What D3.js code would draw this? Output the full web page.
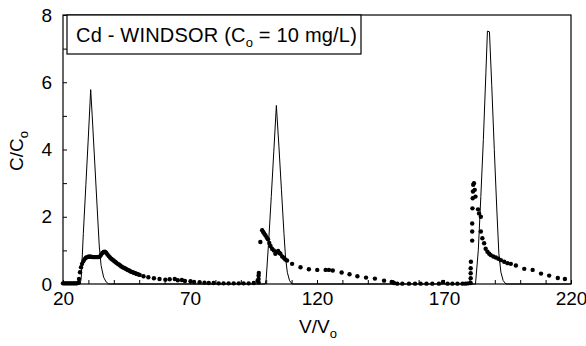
<!DOCTYPE html>
<html>
<head>
<meta charset="utf-8">
<script src="https://cdn.jsdelivr.net/npm/d3@7"></script>
<style>
  body { margin: 0; background: #fff; }
  svg { font-family: "Liberation Sans", Arial, Helvetica, sans-serif; }
  .axis text { font-size: 19px; fill: #000; }
  .axis line { stroke: #000; }
</style>
</head>
<body>
<svg width="586" height="346"></svg>
<script>
// model curve (solid line)
const lineV = [20, 26.8, 27.2, 28, 29, 30, 30.9, 31.5, 32.5, 33.5, 34.3, 35, 36, 37, 38,
  99.6, 100, 101, 102, 103, 104, 105, 106, 107, 107.6, 108.3, 109.2, 110.2,
  182.4, 183.5, 184.5, 185.5, 186.5, 187.1, 187.9, 188.8, 189.8, 190.8, 191.6, 192.4, 193.3, 194.4, 220];
const lineC = [0, 0, 0.2, 1.5, 2.95, 4.4, 5.78, 5.0, 3.6, 2.2, 1.1, 0.55, 0.2, 0.06, 0,
  0, 0.15, 1.3, 2.6, 3.95, 5.31, 4.1, 2.8, 1.5, 0.8, 0.35, 0.1, 0,
  0, 1.0, 2.6, 4.3, 6.3, 7.52, 7.5, 5.9, 4.0, 2.2, 0.9, 0.35, 0.1, 0, 0];

// measured data (dots)
const dotV = [20, 20.5, 21, 21.5, 22, 22.5, 23, 23.5, 24, 24.5, 25, 25.5, 26,
  26.3, 26.7, 27.1, 27.5, 28, 28.5, 29, 29.5, 30, 30.5, 31, 31.5, 32, 32.5, 33, 33.5, 34, 34.5,
  35, 35.5, 36, 36.5, 37, 37.5, 38, 38.5, 39, 39.5, 40, 40.5, 41, 41.5, 42, 42.5, 43, 43.5,
  44, 44.5, 45, 45.5, 46, 46.5, 47, 47.5, 48, 48.5, 49, 49.5, 50.2, 51.7, 53.6, 55.8, 58,
  60.3, 62, 64, 65.2, 66.8, 68, 70.2, 71.6, 73.8, 75.7, 77.4, 79.3, 81.3, 83.2, 85.2, 87.2,
  89.2, 91.1, 93.1, 95.1, 96.6, 97, 97, 97, 97.1,
  97.7, 98.4, 98.8, 99.2, 99.7, 100.2, 100.7, 101.2, 101.7, 102.3, 103, 103.6, 104.2, 104.7,
  105.2, 105.6, 106.3, 106.9, 107.5, 108.2, 110.2, 113.5, 116.8, 120.1, 123.4, 124.7, 126.2,
  129.7, 132.8, 135.9, 139.3, 142.8, 146.4, 149.4, 150.3, 151.6, 153.6, 156.2, 158.6, 160.8,
  163.1, 165.4, 168, 169.6, 171.4, 173.3, 175.3, 177.3, 178.5, 179.5,
  180.5, 180.5, 180.5, 180.5, 180.6, 181.1, 181.1, 181.1, 181.2, 181.3, 181.4, 181.5, 181.8,
  182.1, 182.4, 183.4, 183.8, 184.5, 184.5, 185.1, 185.8, 186.4, 187.1, 187.8, 188.4, 189.4,
  190.4, 191.4, 192.4, 193.7, 195, 196.3, 198.3, 201.6, 204.9, 208.2, 211.4, 214.8, 217.6];
const dotC = [0.02, 0.02, 0.02, 0.02, 0.02, 0.02, 0.02, 0.02, 0.02, 0.02, 0.02, 0.02, 0.04,
  0.15, 0.35, 0.5, 0.6, 0.68, 0.74, 0.78, 0.8, 0.81, 0.81, 0.81, 0.8, 0.8, 0.8, 0.8, 0.8, 0.8, 0.82,
  0.87, 0.92, 0.95, 0.96, 0.93, 0.88, 0.83, 0.79, 0.75, 0.72, 0.69, 0.66, 0.63, 0.6, 0.58, 0.55, 0.52, 0.5,
  0.48, 0.46, 0.44, 0.42, 0.4, 0.38, 0.36, 0.35, 0.33, 0.32, 0.3, 0.29, 0.27, 0.23, 0.2, 0.17, 0.15,
  0.13, 0.14, 0.15, 0.11, 0.12, 0.09, 0.08, 0.06, 0.05, 0.04, 0.03, 0.03, 0.02, 0.02, 0.02, 0.02,
  0.02, 0.02, 0.02, 0.03, 0.1, 0.05, 0.15, 0.25, 0.33,
  1.25, 1.6, 1.55, 1.5, 1.45, 1.38, 1.33, 1.22, 1.13, 1.05, 1.0, 0.9, 0.95, 0.98,
  0.92, 0.9, 0.82, 0.78, 0.73, 0.7, 0.6, 0.5, 0.44, 0.42, 0.42, 0.42, 0.4,
  0.34, 0.29, 0.23, 0.19, 0.16, 0.1, 0.06, 0.03, 0.01, 0.01, 0.01, 0.01, 0.01,
  0.01, 0.01, 0.01, 0.06, 0.01, 0.01, 0.01, 0.01, 0.01, 0.02,
  0.03, 0.17, 0.32, 0.47, 0.66, 1.29, 1.56, 1.8, 2.25, 2.55, 2.75, 2.95, 3.0,
  2.8, 2.6, 2.22, 2.1, 2.0, 1.56, 1.36, 1.21, 1.05, 0.96, 0.9, 0.86, 0.82,
  0.79, 0.75, 0.71, 0.66, 0.62, 0.6, 0.55, 0.45, 0.42, 0.31, 0.25, 0.18, 0.15];

const xTicks = d3.range(20, 221, 10);
const xLabels = [20, 70, 120, 170, 220];
const yTicks = d3.range(0, 9, 1);
const yLabels = [0, 2, 4, 6, 8];

const margin = {top: 15, right: 15, bottom: 62, left: 63};
const width = 586 - margin.left - margin.right;
const height = 346 - margin.top - margin.bottom;

const svg = d3.select("svg");
const g = svg.append("g")
  .attr("transform", "translate(" + margin.left + "," + margin.top + ")");

const x = d3.scaleLinear().domain([20, 220]).range([0, width]);
const y = d3.scaleLinear().domain([0, 8]).range([height, 0]);

g.append("g")
  .attr("class", "axis")
  .attr("transform", "translate(0," + height + ")")
  .call(d3.axisBottom(x).tickValues(xTicks).tickSize(-4).tickPadding(8)
    .tickFormat(d => xLabels.includes(d) ? d : ""))
  .call(a => a.select(".domain").remove());

g.append("g")
  .attr("class", "axis")
  .call(d3.axisLeft(y).tickValues(yTicks).tickSize(-4).tickPadding(11)
    .tickFormat(d => yLabels.includes(d) ? d : ""))
  .call(a => a.select(".domain").remove());

// frame
g.append("rect")
  .attr("width", width).attr("height", height)
  .attr("fill", "none").attr("stroke", "#000").attr("stroke-width", 1.2);

const line = d3.line()
  .x((d, i) => x(lineV[i]))
  .y((d, i) => y(lineC[i]));

g.append("path")
  .datum(lineV)
  .attr("d", line)
  .attr("fill", "none")
  .attr("stroke", "#000")
  .attr("stroke-width", 1);

g.selectAll(".dot")
  .data(dotV)
  .enter().append("circle")
  .attr("class", "dot")
  .attr("cx", d => x(d))
  .attr("cy", (d, i) => y(dotC[i]))
  .attr("r", 2.2)
  .attr("fill", "#000");

// legend box
g.append("rect")
  .attr("x", 4).attr("y", 0)
  .attr("width", 294).attr("height", 39)
  .attr("fill", "#fff").attr("stroke", "#000").attr("stroke-width", 1.2);

const title = g.append("text")
  .attr("x", 13).attr("y", 27)
  .attr("font-size", 20)
  .attr("letter-spacing", 0.2);
title.append("tspan").text("Cd - WINDSOR (C");
title.append("tspan").attr("font-size", 13).attr("dy", 5).text("o");
title.append("tspan").attr("dy", -5).text(" = 10 mg/L)");

// axis titles
const xt = svg.append("text")
  .attr("x", 318).attr("y", 333)
  .attr("text-anchor", "middle")
  .attr("font-size", 19);
xt.append("tspan").text("V/V");
xt.append("tspan").attr("font-size", 13).attr("dy", 5).text("o");

const yt = svg.append("text")
  .attr("transform", "translate(23,151) rotate(-90)")
  .attr("text-anchor", "middle")
  .attr("font-size", 19);
yt.append("tspan").text("C/C");
yt.append("tspan").attr("font-size", 13).attr("dy", 5).text("o");
</script>
</body>
</html>
